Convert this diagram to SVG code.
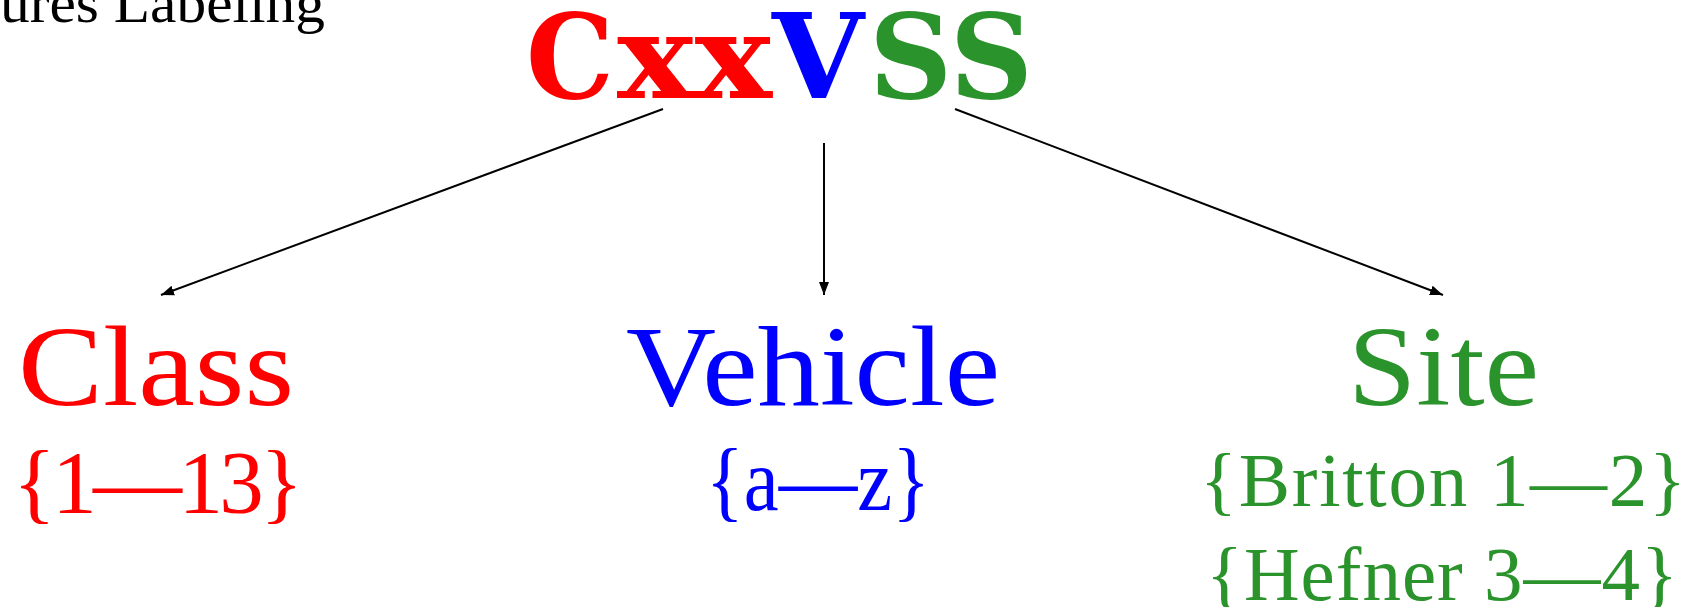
<svg xmlns="http://www.w3.org/2000/svg" width="1708" height="607" viewBox="0 0 1708 607">
<style>
.serif{font-family:"Liberation Serif","Times New Roman",serif;}
.logo{font-family:"DejaVu Serif",serif;font-weight:bold;font-size:117px;}
.red{fill:#ff0000;}
.blue{fill:#0000ff;}
.green{fill:#2b932b;}
.edge{stroke:#000;stroke-width:2;fill:none;marker-end:url(#ah);}
.big{font-size:114px;}
.mid{font-size:89px;}
.small{font-size:77px;}
</style>
<defs>
<marker id="ah" markerUnits="userSpaceOnUse" markerWidth="14" markerHeight="12" refX="13" refY="6" orient="auto">
<path d="M0,1 L13,6 L0,11 Z" fill="#000"/>
</marker>
</defs>
<rect width="1708" height="607" fill="#fff"/>
<g id="caption">
<text class="serif" x="0" y="22" font-size="56" fill="#000" textLength="325" lengthAdjust="spacingAndGlyphs">ures Labeling</text>
</g>
<g id="root">
<text class="logo red" x="526" y="98" textLength="88" lengthAdjust="spacingAndGlyphs">C</text>
<text class="logo red" x="617" y="98" textLength="155" lengthAdjust="spacingAndGlyphs">xx</text>
<text class="logo blue" x="772" y="98" textLength="92" lengthAdjust="spacingAndGlyphs">V</text>
<text class="logo green" x="869" y="98" textLength="164" lengthAdjust="spacingAndGlyphs">SS</text>
</g>
<g id="connectors">
<line class="edge" x1="663" y1="109" x2="161" y2="295"/>
<line class="edge" x1="824" y1="143" x2="824" y2="295"/>
<line class="edge" x1="955" y1="109" x2="1443" y2="295"/>
</g>
<g id="class">
<text class="serif big red" x="18" y="405" textLength="276" lengthAdjust="spacingAndGlyphs">Class</text>
<text class="serif mid red" x="13" y="512" textLength="290">{1—13}</text>
</g>
<g id="vehicle">
<text class="serif big blue" x="626" y="405" textLength="374" lengthAdjust="spacingAndGlyphs">Vehicle</text>
<text class="serif mid blue" x="706" y="510" textLength="224" lengthAdjust="spacingAndGlyphs">{a—z}</text>
</g>
<g id="site">
<text class="serif big green" x="1348" y="405" textLength="191" lengthAdjust="spacingAndGlyphs">Site</text>
<text class="serif small green" x="1200" y="506" textLength="486">{Britton 1—2}</text>
<text class="serif small green" x="1206" y="600" textLength="472">{Hefner 3—4}</text>
</g>
</svg>
